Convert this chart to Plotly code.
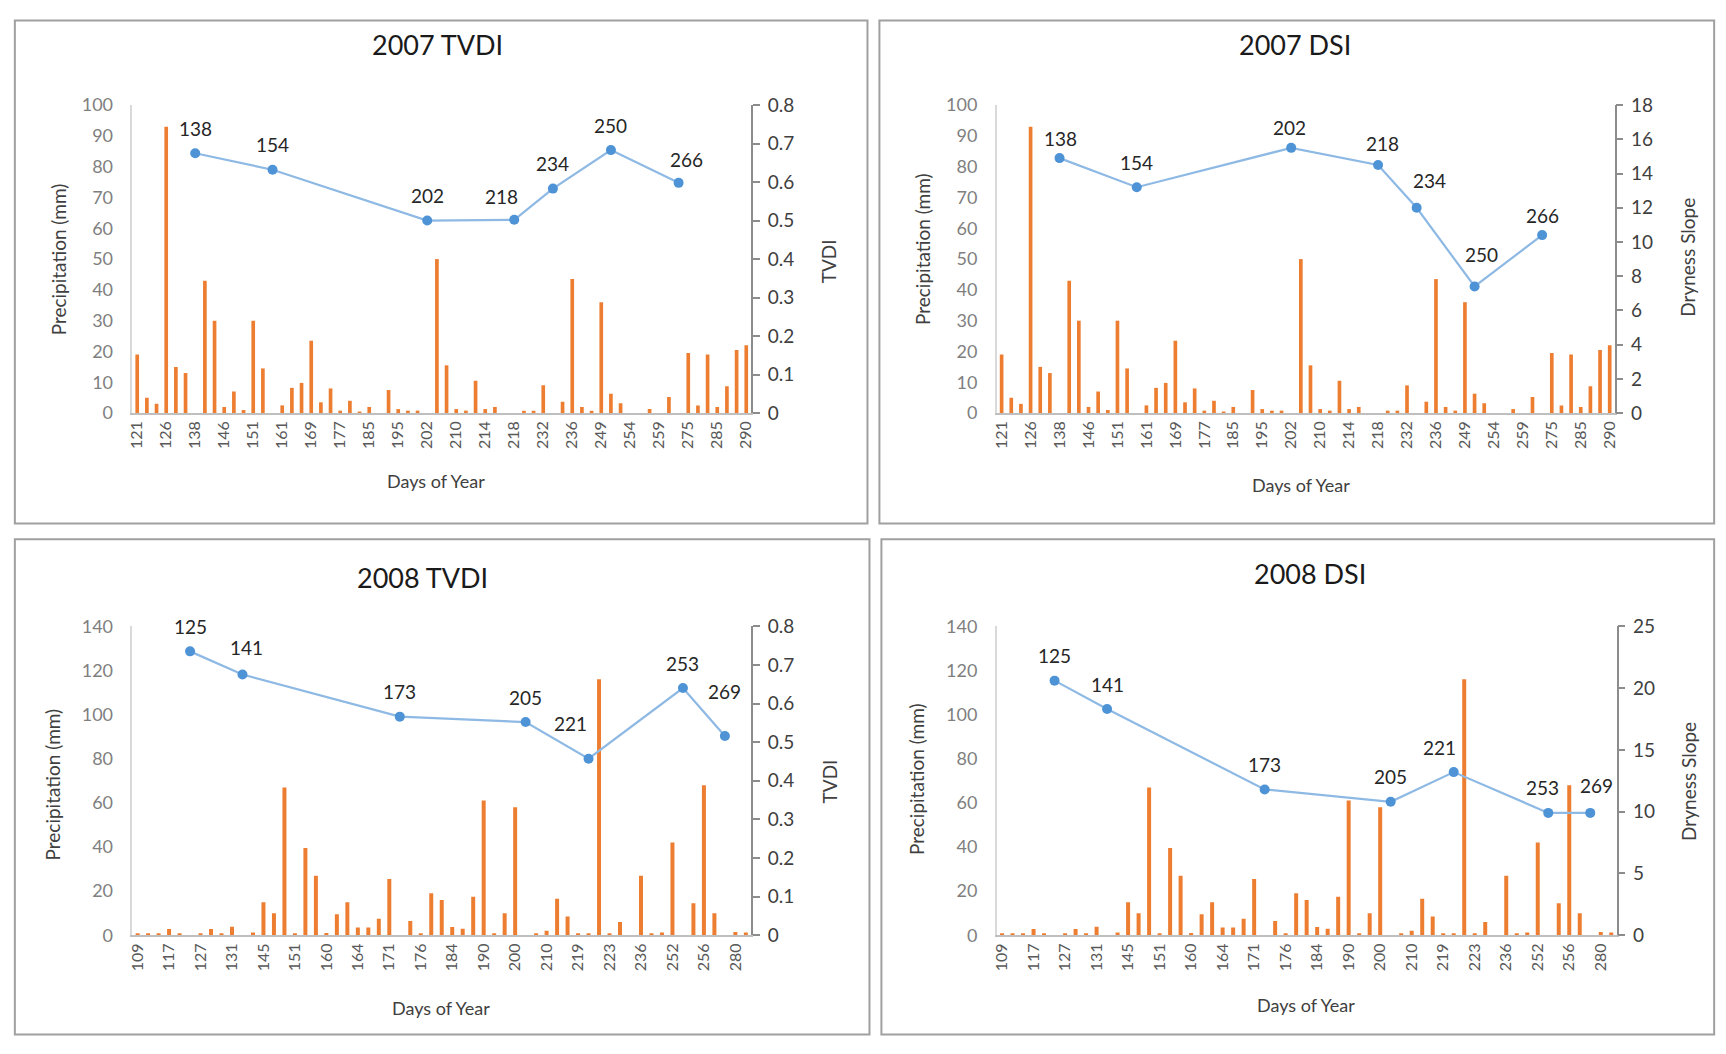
import plotly.graph_objects as go

# ---------------- data ----------------
days_2007 = [121, 123, 124, 126, 128, 131, 138, 140, 142, 146, 148, 150, 151, 152, 154, 161,
             163, 165, 169, 171, 174, 177, 180, 182, 185, 188, 192, 195, 197, 199, 202, 204,
             206, 210, 211, 212, 214, 215, 217, 218, 224, 228, 232, 234, 235, 236, 240, 245,
             249, 250, 251, 254, 256, 258, 259, 263, 266, 275, 278, 280, 285, 287, 288, 290]
ticks_2007 = [121, 126, 138, 146, 151, 161, 169, 177, 185, 195, 202, 210, 214, 218, 232,
              236, 249, 254, 259, 275, 285, 290]
precip_2007 = [19, 5, 3, 93, 15, 13, 0, 43, 30, 2,
               7, 1, 30, 14.5, 0, 2.5, 8.2, 9.8, 23.5, 3.5,
               8, 0.8, 4, 0.5, 2, 0, 7.5, 1.3, 0.8, 0.8,
               0, 50, 15.5, 1.3, 0.8, 10.5, 1.3, 2, 0, 0,
               0.8, 0.8, 9, 0, 3.7, 43.5, 2, 0.8, 36, 6.3,
               3.2, 0, 0, 1.3, 0, 5.2, 0, 19.5, 2.5, 19,
               2, 8.7, 20.5, 22]
line_days_2007 = [138, 154, 202, 218, 234, 250, 266]
tvdi_2007 = [0.675, 0.632, 0.500, 0.502, 0.583, 0.683, 0.598]
dsi_2007 = [14.9, 13.2, 15.5, 14.5, 12.0, 7.4, 10.4]

days_2008 = [109, 111, 114, 117, 120, 125, 127, 129, 130, 131, 141, 143, 145, 147, 149, 151,
             153, 156, 160, 161, 162, 164, 166, 168, 171, 173, 174, 176, 179, 182, 184, 186,
             188, 190, 194, 197, 200, 205, 207, 210, 213, 216, 219, 221, 222, 223, 226, 230,
             236, 240, 247, 252, 253, 254, 256, 260, 269, 280, 282]
ticks_2008 = [109, 117, 127, 131, 145, 151, 160, 164, 171, 176, 184, 190, 200, 210, 219,
              223, 236, 252, 256, 280]
precip_2008 = [0.5, 0.6, 0.5, 2.8, 0.6, 0, 0.5, 2.8, 0.6, 3.8,
               0, 1.2, 15, 10, 67, 0.5, 39.5, 27, 1, 9.5,
               15, 3.5, 3.5, 7.5, 25.5, 0, 6.5, 0.6, 19, 16,
               3.7, 3, 17.5, 61, 0.5, 10, 58, 0, 0.5, 2,
               16.5, 8.5, 0.6, 0.6, 116, 0.6, 6, 0, 27, 0.6,
               1.3, 42, 0, 14.5, 68, 10, 0, 1.5, 1.3]
line_days_2008 = [125, 141, 173, 205, 221, 253, 269]
tvdi_2008 = [0.735, 0.675, 0.566, 0.552, 0.457, 0.640, 0.516]
dsi_2008 = [20.6, 18.3, 11.8, 10.8, 13.2, 9.9, 9.9]

titles = ["2007 TVDI", "2007 DSI", "2008 TVDI", "2008 DSI"]
y_title_left = "Precipitation (mm)"
x_title = "Days of Year"

# ---------------- style ----------------
PAGE_W, PAGE_H = 1726, 1054
BODY_MARGIN = 8                      # default page margin around the plot div
W, H = PAGE_W - 2 * BODY_MARGIN, PAGE_H - 2 * BODY_MARGIN
FONT = "Lato, 'Open Sans', sans-serif"
BAR_COLOR = "#ED7D31"
LINE_COLOR = "#8DB9E4"
MARKER_COLOR = "#4E93D6"
DEFAULT_LABEL_SHIFT = (0, 25)
# manual data-label nudges (panel index, label) -> (xshift, yshift) in px
LABEL_SHIFT = {
    (0, "218"): (-13, 23), (0, "266"): (8, 23),
    (1, "138"): (1, 20), (1, "202"): (-2, 20), (1, "218"): (4, 21),
    (1, "234"): (13, 27), (1, "250"): (7, 32), (1, "266"): (0, 20),
    (2, "141"): (4, 27), (2, "221"): (-18, 35), (2, "269"): (0, 44),
    (3, "221"): (-14, 25), (3, "253"): (-6, 25), (3, "269"): (6, 27),
}

def px(x):
    v = (x - BODY_MARGIN) / W
    return min(max(v, 0.0005), 0.9995)

def py(y):
    v = 1 - (y - BODY_MARGIN) / H
    return min(max(v, 0.0005), 0.9995)

fig = go.Figure()
layout = dict(
    width=W, height=H, margin=dict(l=0, r=0, t=0, b=0),
    paper_bgcolor="white", plot_bgcolor="white", showlegend=False,
    bargap=0.62, font=dict(family=FONT),
)
annotations = []
shapes = []

panels = [
    dict(days=days_2007, ticks=ticks_2007, precip=precip_2007, ldays=line_days_2007, lvals=tvdi_2007,
         y1=(100, 10), y2=(0.8, 0.1), y2title="TVDI",
         plot=(127, 749, 95, 410), box=(6, 866, 7, 523),
         title_xy=(434, 33), ylab_xy=(53, 253), y2lab_xy=(827, 255), xlab_xy=(432, 479)),
    dict(days=days_2007, ticks=ticks_2007, precip=precip_2007, ldays=line_days_2007, lvals=dsi_2007,
         y1=(100, 10), y2=(18, 2), y2title="Dryness Slope",
         plot=(996, 1617, 95, 410), box=(878, 1722, 7, 523),
         title_xy=(1296, 33), ylab_xy=(922, 242), y2lab_xy=(1690, 251), xlab_xy=(1302, 484)),
    dict(days=days_2008, ticks=ticks_2008, precip=precip_2008, ldays=line_days_2008, lvals=tvdi_2008,
         y1=(140, 20), y2=(0.8, 0.1), y2title="TVDI",
         plot=(127, 749, 628, 944), box=(6, 868, 539, 1052),
         title_xy=(419, 578), ylab_xy=(47, 790), y2lab_xy=(828, 787), xlab_xy=(437, 1018)),
    dict(days=days_2008, ticks=ticks_2008, precip=precip_2008, ldays=line_days_2008, lvals=dsi_2008,
         y1=(140, 20), y2=(25, 5), y2title="Dryness Slope",
         plot=(996, 1619, 628, 944), box=(880, 1722, 539, 1052),
         title_xy=(1311, 574), ylab_xy=(916, 784), y2lab_xy=(1692, 787), xlab_xy=(1307, 1015)),
]

def text_ann(x, y, text, size, color, angle=0):
    return dict(x=px(x), y=py(y), xref="paper", yref="paper", text=text, textangle=angle,
                xanchor="center", yanchor="middle", showarrow=False,
                font=dict(size=size, color=color, family=FONT))

for k, p in enumerate(panels):
    n = k + 1
    xa = "x" if n == 1 else f"x{n}"
    ya = f"y{2*n-1}" if n > 1 else "y"
    yb = f"y{2*n}"
    xkey = "xaxis" if n == 1 else f"xaxis{n}"
    yakey = "yaxis" if n == 1 else f"yaxis{2*n-1}"
    ybkey = f"yaxis{2*n}"
    cats = [str(d) for d in p["days"]]
    x0, x1, y0, y1 = p["plot"]

    fig.add_trace(go.Bar(x=cats, y=p["precip"], xaxis=xa, yaxis=ya,
                         marker=dict(color=BAR_COLOR, line=dict(width=0)), hoverinfo="x+y"))
    ldays = [str(d) for d in p["ldays"]]
    fig.add_trace(go.Scatter(x=ldays, y=p["lvals"], xaxis=xa, yaxis=yb, mode="lines+markers",
                             line=dict(color=LINE_COLOR, width=2.2),
                             marker=dict(color=MARKER_COLOR, size=10), cliponaxis=False))
    # data labels (category index position on the shared category axis)
    for d, v in zip(ldays, p["lvals"]):
        sx, sy = LABEL_SHIFT.get((k, d), DEFAULT_LABEL_SHIFT)
        annotations.append(dict(x=cats.index(d), y=v, xref=xa, yref=yb, text=d, showarrow=False,
                                xanchor="center", yanchor="middle", xshift=sx, yshift=sy,
                                font=dict(size=19, color="#262626", family=FONT)))

    layout[xkey] = dict(domain=[px(x0), px(x1)], anchor=ya, type="category",
                        categoryorder="array", categoryarray=cats,
                        range=[-0.5, len(cats) - 0.5],
                        tickmode="array", tickvals=[str(t) for t in p["ticks"]],
                        ticktext=[str(t) for t in p["ticks"]], tickangle=-90,
                        tickfont=dict(size=16, color="#595959", family=FONT),
                        showline=True, linecolor="#BFBFBF", linewidth=1.5,
                        ticks="", showgrid=False, zeroline=False, fixedrange=True)
    layout[yakey] = dict(domain=[py(y1), py(y0)], anchor=xa, range=[0, p["y1"][0]],
                         dtick=p["y1"][1], tick0=0,
                         tickfont=dict(size=18, color="#7F7F7F", family=FONT),
                         showline=True, linecolor="#D9D9D9", linewidth=1.5, ticks="",
                         ticklabelstandoff=14, showgrid=False, zeroline=False)
    layout[ybkey] = dict(overlaying=ya, side="right", anchor=xa, range=[0, p["y2"][0]],
                         dtick=p["y2"][1], tick0=0,
                         tickfont=dict(size=19, color="#404040", family=FONT),
                         showline=True, linecolor="#8C8C8C", linewidth=1.5,
                         ticks="outside", ticklen=7, tickcolor="#8C8C8C", tickwidth=1.5,
                         ticklabelstandoff=4, showgrid=False, zeroline=False)

    # panel border
    bx0, bx1, by0, by1 = p["box"]
    shapes.append(dict(type="rect", xref="paper", yref="paper",
                       x0=px(bx0), x1=px(bx1), y0=py(by1), y1=py(by0),
                       line=dict(color="#A0A0A0", width=2), layer="below"))
    annotations.append(text_ann(*p["title_xy"], titles[k], 27, "#1A1A1A"))
    annotations.append(text_ann(*p["ylab_xy"], y_title_left, 19, "#404040", -90))
    annotations.append(text_ann(*p["y2lab_xy"], p["y2title"], 19, "#404040", -90))
    annotations.append(text_ann(*p["xlab_xy"], x_title, 18, "#404040"))

layout["annotations"] = annotations
layout["shapes"] = shapes
fig.update_layout(**layout)
fig.write_html("out.html", config={"displayModeBar": False})
